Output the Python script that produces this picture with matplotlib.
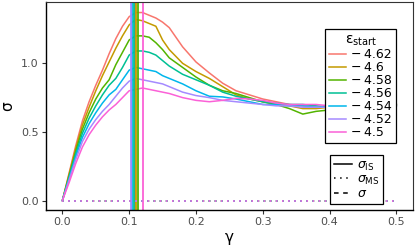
import numpy as np
import matplotlib.pyplot as plt
from matplotlib.lines import Line2D

# gamma grid used for the hand-read curves
gamma = [0.00, 0.01, 0.02, 0.03, 0.04, 0.05, 0.06, 0.07, 0.08, 0.09,
         0.10, 0.11, 0.12, 0.13, 0.14, 0.15, 0.16, 0.18, 0.20, 0.22,
         0.24, 0.26, 0.28, 0.30, 0.32, 0.34, 0.36, 0.38, 0.40, 0.42,
         0.44, 0.46, 0.48, 0.50]

eps_start = ['4.62', '4.6', '4.58', '4.56', '4.54', '4.52', '4.5']
colors = ['#F8766D', '#C49A00', '#53B400', '#00C094', '#00B6EB', '#A58AFF', '#FB61D7']

sigma_462 = [0, .20, .40, .58, .72, .84, .95, 1.07, 1.18, 1.27,
             1.34, 1.37, 1.37, 1.35, 1.33, 1.30, 1.26, 1.12, 1.01, .93,
             .855, .80, .77, .74, .72, .70, .69, .68, .68, .69,
             .69, .70, .69, .69]
sigma_46 = [0, .19, .38, .55, .68, .80, .91, 1.01, 1.11, 1.20,
            1.28, 1.32, 1.31, 1.29, 1.27, 1.17, 1.10, 1.00, .94, .89,
            .83, .77, .74, .72, .70, .69, .67, .67, .68, .68,
            .69, .69, .70, .70]
sigma_458 = [0, .18, .36, .52, .64, .74, .82, .88, .99, 1.08,
             1.17, 1.20, 1.20, 1.19, 1.15, 1.10, 1.04, .97, .90, .84,
             .80, .78, .75, .72, .70, .67, .63, .65, .66, .67,
             .68, .69, .69, .70]
sigma_456 = [0, .17, .34, .49, .60, .69, .77, .84, .89, .97,
             1.06, 1.09, 1.09, 1.08, 1.06, 1.02, .98, .92, .88, .84,
             .79, .76, .74, .72, .71, .70, .70, .69, .68, .68,
             .69, .69, .70, .70]
sigma_454 = [0, .16, .32, .46, .56, .64, .71, .77, .81, .88,
             .95, .97, .96, .95, .94, .91, .89, .85, .80, .76,
             .755, .74, .72, .70, .70, .69, .69, .68, .68, .68,
             .69, .69, .69, .69]
sigma_452 = [0, .15, .30, .43, .52, .59, .65, .70, .76, .82,
             .87, .89, .88, .87, .86, .85, .83, .79, .765, .75,
             .73, .72, .71, .70, .69, .69, .68, .68, .68, .67,
             .68, .68, .69, .69]
sigma_45 = [0, .13, .27, .39, .48, .55, .61, .66, .70, .75,
            .80, .81, .82, .81, .80, .79, .78, .75, .73, .72,
            .73, .745, .74, .73, .71, .70, .70, .70, .69, .69,
            .70, .70, .70, .70]
curves = [sigma_462, sigma_46, sigma_458, sigma_456, sigma_454, sigma_452, sigma_45]

# strain at peak stress (vertical lines)
gamma_peak = [0.109, 0.110, 0.113, 0.107, 0.104, 0.103, 0.121]
sigma_ms = [0.0, 0.0]
gamma_ms = [0.0, 0.5]

fig = plt.figure(figsize=(4.15, 2.47), dpi=100)
ax = fig.add_axes([45.7 / 415, 1 - 210 / 247, 367.3 / 415, 208.3 / 247])

handles = []
for eps, c, s in zip(eps_start, colors, curves):
    ax.plot(gamma, s, color=c, lw=1.1)
    handles.append(Line2D([], [], color=c, lw=1.1, label='\u2212\u2009' + eps))
for c, gp in zip(colors, gamma_peak):
    ax.axvline(gp, color=c, lw=1.3)
for c in colors:
    ax.plot(gamma_ms, sigma_ms, color=c, lw=1.1, ls=(0, (1, 3)))

ax.set_xlim(-0.025, 0.525)
ax.set_ylim(-0.069, 1.449)
ax.set_xticks([0.0, 0.1, 0.2, 0.3, 0.4, 0.5])
ax.set_yticks([0.0, 0.5, 1.0])
ax.set_xticklabels(['0.0', '0.1', '0.2', '0.3', '0.4', '0.5'])
ax.set_yticklabels(['0.0', '0.5', '1.0'])
ax.tick_params(length=3, width=0.8, color='#333333', labelcolor='#4D4D4D',
               labelsize=8, pad=2)
for side in ['left', 'bottom']:
    ax.spines[side].set_linewidth(1.0)
    ax.spines[side].set_color('black')
for side in ['top', 'right']:
    ax.spines[side].set_linewidth(0.8)
    ax.spines[side].set_color('#333333')
ax.set_xlabel('\u03b3', fontsize=11, labelpad=2)
ax.set_ylabel('\u03c3', fontsize=11, labelpad=4)

leg1 = ax.legend(handles=handles, title='\u03b5$_{\\rm start}$', loc='upper right',
                 bbox_to_anchor=(0.954, 0.869), fontsize=9, title_fontsize=10,
                 frameon=True, fancybox=False, edgecolor='black', framealpha=1,
                 handlelength=1.4, handletextpad=0.4, labelspacing=0.0,
                 borderpad=0.3, borderaxespad=0)
leg1.get_frame().set_linewidth(0.9)
ax.add_artist(leg1)

style_handles = [Line2D([], [], color='black', lw=1.1, ls='-', label='$\\sigma_{\\rm IS}$'),
                 Line2D([], [], color='black', lw=1.1, ls=(0, (1, 3)), label='$\\sigma_{\\rm MS}$'),
                 Line2D([], [], color='black', lw=1.1, ls=(0, (3, 3)), label='$\\sigma$')]
leg2 = ax.legend(handles=style_handles, loc='upper right', bbox_to_anchor=(0.918, 0.264),
                 fontsize=9, frameon=True, fancybox=False, edgecolor='black', framealpha=1,
                 handlelength=1.4, handletextpad=0.4, labelspacing=0.0,
                 borderpad=0.3, borderaxespad=0)
leg2.get_frame().set_linewidth(0.9)

fig.savefig('out.png', dpi=100)
